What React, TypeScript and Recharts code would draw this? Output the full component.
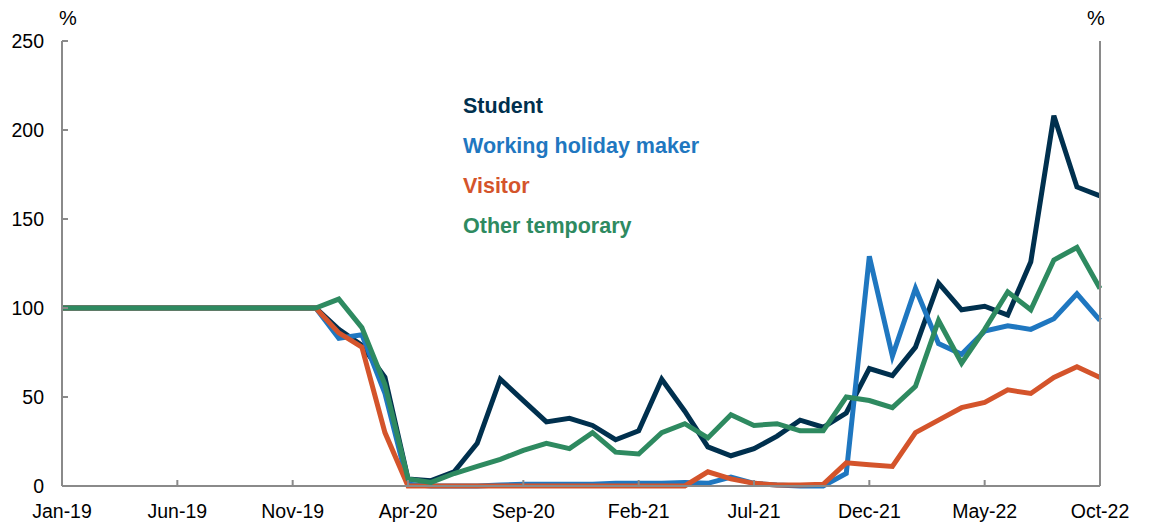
import { LineChart, Line, XAxis, YAxis } from "recharts";

const MONTHS = [
  "Jan-19", "Feb-19", "Mar-19", "Apr-19", "May-19", "Jun-19", "Jul-19", "Aug-19", "Sep-19", "Oct-19", "Nov-19", "Dec-19",
  "Jan-20", "Feb-20", "Mar-20", "Apr-20", "May-20", "Jun-20", "Jul-20", "Aug-20", "Sep-20", "Oct-20", "Nov-20", "Dec-20",
  "Jan-21", "Feb-21", "Mar-21", "Apr-21", "May-21", "Jun-21", "Jul-21", "Aug-21", "Sep-21", "Oct-21", "Nov-21", "Dec-21",
  "Jan-22", "Feb-22", "Mar-22", "Apr-22", "May-22", "Jun-22", "Jul-22", "Aug-22", "Sep-22", "Oct-22",
];

const STUDENT = [
  100, 100, 100, 100, 100, 100, 100, 100, 100, 100, 100, 100,
  88, 79, 61, 4, 3, 8, 24, 60, 48, 36, 38, 34,
  26, 31, 60, 42, 22, 17, 21, 28, 37, 33, 41, 66,
  62, 78, 114, 99, 101, 96, 126, 208, 168, 163,
];

const WORKING_HOLIDAY = [
  100, 100, 100, 100, 100, 100, 100, 100, 100, 100, 100, 100,
  83, 85, 52, 1, 0, 0, 0, 0.5, 1, 1, 1, 1,
  1.5, 1.5, 1.5, 2, 1.5, 5, 1.5, 0.5, 0, 0, 7, 129,
  73, 111, 80, 74, 87, 90, 88, 94, 108, 93,
];

const VISITOR = [
  100, 100, 100, 100, 100, 100, 100, 100, 100, 100, 100, 100,
  86, 78, 30, 0, 0, 0, 0, 0, 0, 0, 0, 0,
  0, 0, 0, 0, 8, 4, 1.5, 0.5, 0.5, 1, 13, 12,
  11, 30, 37, 44, 47, 54, 52, 61, 67, 61,
];

const OTHER_TEMPORARY = [
  100, 100, 100, 100, 100, 100, 100, 100, 100, 100, 100, 100,
  105, 89, 57, 4, 2, 7, 11, 15, 20, 24, 21, 30,
  19, 18, 30, 35, 27, 40, 34, 35, 31, 31, 50, 48,
  44, 56, 93, 69, 88, 109, 99, 127, 134, 111,
];

const X_TICKS = [0, 5, 10, 15, 20, 25, 30, 35, 40, 45];
const Y_TICKS = [0, 50, 100, 150, 200, 250];

const SERIES = [
  { key: "student", name: "Student", color: "#00304E" },
  { key: "whm", name: "Working holiday maker", color: "#1F77C0" },
  { key: "visitor", name: "Visitor", color: "#D4542B" },
  { key: "other", name: "Other temporary", color: "#2E8A60" },
];

const data = MONTHS.map((m, i) => ({
  idx: i,
  month: m,
  student: STUDENT[i],
  whm: WORKING_HOLIDAY[i],
  visitor: VISITOR[i],
  other: OTHER_TEMPORARY[i],
}));

const GREY = "#8a8a8a";
const FONT = "Arial, 'Liberation Sans', sans-serif";
const TICK_FONT = 19.5;

const XTick = (props: any) => {
  const { x, y, payload } = props;
  return (
    <g>
      <line x1={x} x2={x} y1={y} y2={y - 6} stroke={GREY} strokeWidth={2} />
      <text x={x} y={y + 32} textAnchor="middle" fontSize={TICK_FONT} fontFamily={FONT} fill="#000">
        {MONTHS[payload.value]}
      </text>
    </g>
  );
};

const LeftTick = (props: any) => {
  const { x, y, payload } = props;
  return (
    <g>
      <line x1={x} x2={x + 6} y1={y} y2={y} stroke={GREY} strokeWidth={2} />
      <text x={x - 18} y={y} dy="0.35em" textAnchor="end" fontSize={TICK_FONT} fontFamily={FONT} fill="#000">
        {payload.value}
      </text>
    </g>
  );
};

const RightTick = (props: any) => {
  const { x, y, payload } = props;
  return (
    <g>
      <line x1={x} x2={x - 6} y1={y} y2={y} stroke={GREY} strokeWidth={2} />
      <text x={x + 18} y={y} dy="0.35em" textAnchor="start" fontSize={TICK_FONT} fontFamily={FONT} fill="#000">
        {payload.value}
      </text>
    </g>
  );
};

export default function App() {
  return (
    <div style={{ position: "absolute", left: 0, top: 0, width: 1159, height: 524, background: "#fff" }}>
      <LineChart width={1159} height={524} data={data} margin={{ top: 41, right: 0, left: 0, bottom: 8 }}>
        <XAxis
          dataKey="idx"
          type="number"
          domain={[0, 45]}
          ticks={X_TICKS}
          interval={0}
          height={30}
          tickSize={0}
          tickMargin={0}
          tickLine={false}
          axisLine={{ stroke: GREY, strokeWidth: 2 }}
          tick={<XTick />}
        />
        <YAxis
          yAxisId="left"
          domain={[0, 250]}
          ticks={Y_TICKS}
          width={62}
          tickSize={0}
          tickMargin={0}
          tickLine={false}
          axisLine={{ stroke: GREY, strokeWidth: 2 }}
          tick={<LeftTick />}
        />
        <YAxis
          yAxisId="right"
          orientation="right"
          domain={[0, 250]}
          ticks={Y_TICKS}
          width={59}
          tickSize={0}
          tickMargin={0}
          tickLine={false}
          axisLine={{ stroke: GREY, strokeWidth: 2 }}
          tick={<RightTick />}
        />
        {SERIES.map((s) => (
          <Line
            key={s.key}
            yAxisId="left"
            type="linear"
            dataKey={s.key}
            name={s.name}
            stroke={s.color}
            strokeWidth={5}
            dot={false}
            activeDot={false}
            isAnimationActive={false}
          />
        ))}
      </LineChart>
      <div style={{ position: "absolute", left: 59, top: 7, fontFamily: FONT, fontSize: 20 }}>%</div>
      <div style={{ position: "absolute", left: 1087, top: 7, fontFamily: FONT, fontSize: 20 }}>%</div>
      <div
        style={{
          position: "absolute",
          left: 463,
          top: 86,
          fontFamily: FONT,
          fontWeight: 700,
          fontSize: 21.5,
          lineHeight: "40px",
          whiteSpace: "nowrap",
        }}
      >
        {SERIES.map((s) => (
          <div key={s.key} style={{ color: s.color }}>{s.name}</div>
        ))}
      </div>
    </div>
  );
}
